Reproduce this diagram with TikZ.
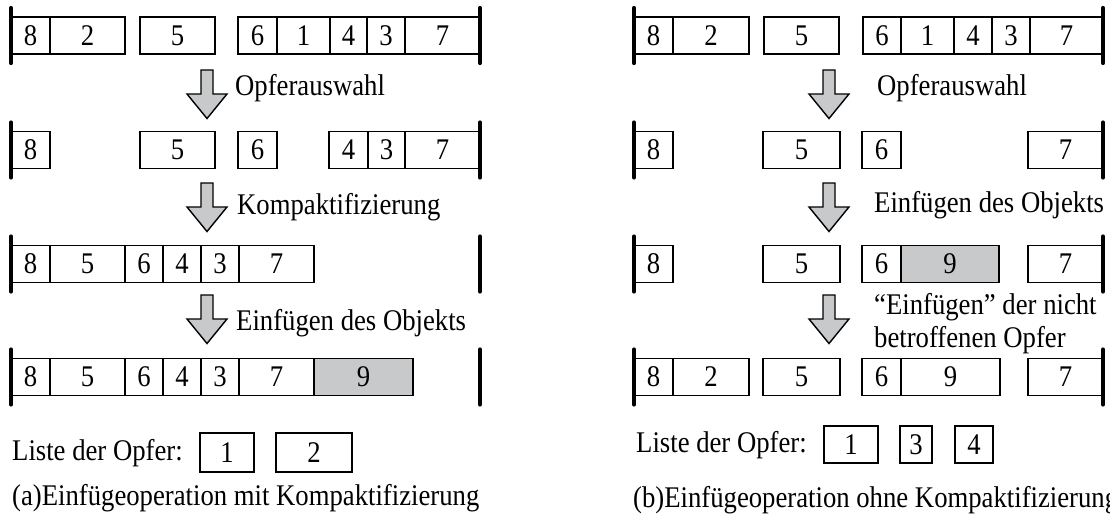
\documentclass[tikz,border=0pt]{standalone}
\usepackage{fontspec}
\setmainfont{Liberation Serif}[FakeStretch=0.89]
\definecolor{fillgray}{RGB}{200,201,202}
\newcommand\mycell[6][]{\node[cell,#1,minimum width={(#4-#3)*1pt}] (#2) at ({(#3+#4)/2},#5) {#6};}
\newcommand\mybar[3]{\coordinate (#1t) at (#2,{#3-27.5}); \coordinate (#1b) at (#2,{#3+27.5}); \draw[bar] (#1t) -- (#1b);}
\newcommand\grayarrow[3]{\coordinate (#1) at (#2,#3);
  \path[arr] ([xshift=-6pt]#1) -- ([xshift=6pt]#1) -- ([xshift=6pt,yshift=-24pt]#1) -- ([xshift=20pt,yshift=-24pt]#1) -- ([yshift=-48.5pt]#1) -- ([xshift=-20pt,yshift=-24pt]#1) -- ([xshift=-6pt,yshift=-24pt]#1) -- cycle;}
\begin{document}
\begin{tikzpicture}[x=1pt,y=-1pt,
  cell/.style={draw, line width=1.4pt, minimum height=37pt, inner sep=0pt, outer sep=0pt, font=\fontsize{30}{34}\selectfont},
  grey/.style={fill=fillgray},
  bar/.style={line width=4.2pt, line cap=round},
  arr/.style={draw, fill=fillgray, line width=1.4pt, line join=miter},
  lbl/.style={anchor=west, inner sep=0pt, font=\fontsize{30}{34}\selectfont}]
\useasboundingbox (0,0) rectangle (1110,517);

% ---------------- left panel ----------------
% row 1
\mycell{a1n8}{11}{50}{35.5}{8}
\mycell{a1n2}{50}{125}{35.5}{2}
\mycell{a1n5}{140}{215}{35.5}{5}
\mycell{a1n6}{238}{277}{35.5}{6}
\mycell{a1n1}{277}{330}{35.5}{1}
\mycell{a1n4}{330}{367}{35.5}{4}
\mycell{a1n3}{367}{405}{35.5}{3}
\mycell{a1n7}{405}{480}{35.5}{7}
\mybar{a1L}{11}{35.5}
\mybar{a1R}{480}{35.5}
% row 2
\mycell{a2n8}{11}{50}{150}{8}
\mycell{a2n5}{140}{215}{150}{5}
\mycell{a2n6}{238}{277}{150}{6}
\mycell{a2n4}{329}{368}{150}{4}
\mycell{a2n3}{368}{405}{150}{3}
\mycell{a2n7}{405}{480}{150}{7}
\mybar{a2L}{11}{150}
\mybar{a2R}{480}{150}
% row 3
\mycell{a3n8}{11}{50}{264}{8}
\mycell{a3n5}{50}{125}{264}{5}
\mycell{a3n6}{125}{163}{264}{6}
\mycell{a3n4}{163}{201}{264}{4}
\mycell{a3n3}{201}{239}{264}{3}
\mycell{a3n7}{239}{314}{264}{7}
\mybar{a3L}{11}{264}
\mybar{a3R}{480}{264}
% row 4
\mycell{a4n8}{11}{50}{377}{8}
\mycell{a4n5}{50}{125}{377}{5}
\mycell{a4n6}{125}{163}{377}{6}
\mycell{a4n4}{163}{201}{377}{4}
\mycell{a4n3}{201}{239}{377}{3}
\mycell{a4n7}{239}{314}{377}{7}
\mycell[grey]{a4n9}{314}{413}{377}{9}
\mybar{a4L}{11}{377}
\mybar{a4R}{480}{377}
% arrows + labels
\grayarrow{aA1}{207}{70}
\grayarrow{aA2}{207}{183}
\grayarrow{aA3}{207}{295}
\node[lbl] (aT1) at (235,88) {Opferauswahl};
\node[lbl] (aT2) at (237,207) {Kompaktifizierung};
\node[lbl] (aT3) at (236,323) {Einfügen des Objekts};
% victims list
\node[lbl] (aList) at (12,453) {Liste der Opfer:};
\mycell[minimum height=39pt]{aV1}{200}{254}{452.5}{1}
\mycell[minimum height=39pt]{aV2}{276}{352}{452.5}{2}
\node[lbl] (aCap) at (12,498) {(a)Einfügeoperation mit Kompaktifizierung};

% ---------------- right panel ----------------
% row 1
\mycell{b1n8}{634}{673}{35.5}{8}
\mycell{b1n2}{673}{749}{35.5}{2}
\mycell{b1n5}{764}{839}{35.5}{5}
\mycell{b1n6}{863}{901}{35.5}{6}
\mycell{b1n1}{901}{954}{35.5}{1}
\mycell{b1n4}{954}{992}{35.5}{4}
\mycell{b1n3}{992}{1030}{35.5}{3}
\mycell{b1n7}{1030}{1103}{35.5}{7}
\mybar{b1L}{634}{35.5}
\mybar{b1R}{1103}{35.5}
% row 2
\mycell{b2n8}{634}{673}{150}{8}
\mycell{b2n5}{763}{840}{150}{5}
\mycell{b2n6}{862}{901}{150}{6}
\mycell{b2n7}{1028}{1103}{150}{7}
\mybar{b2L}{634}{150}
\mybar{b2R}{1103}{150}
% row 3
\mycell{b3n8}{634}{673}{264}{8}
\mycell{b3n5}{763}{840}{264}{5}
\mycell{b3n6}{862}{901}{264}{6}
\mycell[grey]{b3n9}{901}{999}{264}{9}
\mycell{b3n7}{1028}{1103}{264}{7}
\mybar{b3L}{634}{264}
\mybar{b3R}{1103}{264}
% row 4
\mycell{b4n8}{634}{673}{377}{8}
\mycell{b4n2}{673}{749}{377}{2}
\mycell{b4n5}{763}{840}{377}{5}
\mycell{b4n6}{862}{901}{377}{6}
\mycell{b4n9}{901}{1000}{377}{9}
\mycell{b4n7}{1028}{1103}{377}{7}
\mybar{b4L}{634}{377}
\mybar{b4R}{1103}{377}
% arrows + labels
\grayarrow{bA1}{829}{70}
\grayarrow{bA2}{829}{183}
\grayarrow{bA3}{829}{295}
\node[lbl] (bT1) at (877,88) {Opferauswahl};
\node[lbl] (bT2) at (874,205) {Einfügen des Objekts};
\node[lbl,align=left,font=\fontsize{30}{33}\selectfont] (bT3) at (874,323.5) {“Einfügen” der nicht\\betroffenen Opfer};
% victims list
\node[lbl] (bList) at (636,445) {Liste der Opfer:};
\mycell{bV1}{824}{878}{444.5}{1}
\mycell{bV3}{900}{932}{444.5}{3}
\mycell{bV4}{955}{993}{444.5}{4}
\node[lbl] (bCap) at (633,500) {(b)Einfügeoperation ohne Kompaktifizierung};
\end{tikzpicture}
\end{document}
